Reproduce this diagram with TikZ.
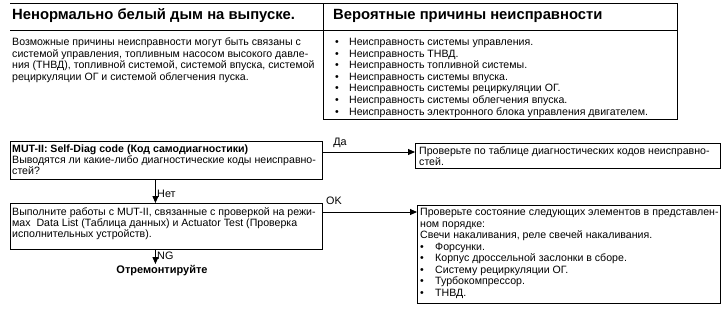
\documentclass[tikz,border=0pt]{standalone}
\usepackage{fontspec}
\setmainfont{Liberation Sans}
\usetikzlibrary{arrows.meta}
\newcommand\mybul{\makebox[14pt][l]{•}}
\newcommand\mybulb{\makebox[15pt][l]{•}}
\begin{document}
\begin{tikzpicture}[x=1pt,y=-1pt,
  txt/.style={font=\fontsize{10.6}{11.6}\selectfont, inner sep=0pt, anchor=north west, align=left},
  ftxt/.style={font=\fontsize{10.6}{11.2}\selectfont, inner sep=0pt, anchor=north west, align=left},
  ltxt/.style={font=\fontsize{10.6}{11.5}\selectfont, inner sep=0pt, anchor=north west, align=left},
  hdr/.style={font=\fontsize{14.8}{16}\selectfont\bfseries, inner sep=0pt, anchor=base west},
  frame/.style={draw, line width=0.9pt, inner sep=0pt, anchor=north west},
  rule/.style={line width=0.9pt},
  arr/.style={line width=0.9pt, -{Triangle[length=7pt,width=6pt]}},
  lbl/.style={font=\fontsize{10.8}{12}\selectfont, inner sep=0pt}
]
\useasboundingbox (0,0) rectangle (725,309);
% top table
\draw[rule] (10,3) -- (677,3);
\draw[rule] (10,30) -- (677,30);
\draw[rule] (323,3) -- (323,119) -- (677,119) -- (677,3);
\node[hdr] (hL) at (12,19) {Ненормально белый дым на выпуске.};
\node[hdr] (hR) at (333,19) {Вероятные причины неисправности};
\node[txt] (tL) at (12,37.5) {Возможные причины неисправности могут быть связаны с\\
системой управления, топливным насосом высокого давле-\\
ния (ТНВД), топливной системой, системой впуска, системой\\
рециркуляции ОГ и системой облегчения пуска.};
\node[txt] (tR) at (335,38) {\mybul Неисправность системы управления.\\
\mybul Неисправность ТНВД.\\
\mybul Неисправность топливной системы.\\
\mybul Неисправность системы впуска.\\
\mybul Неисправность системы рециркуляции ОГ.\\
\mybul Неисправность системы облегчения впуска.\\
\mybul Неисправность электронного блока управления двигателем.};
% flowchart boxes
\node[frame, minimum width=312pt, minimum height=38pt] (q1) at (10,141) {};
\node[frame, minimum width=305pt, minimum height=25pt] (a1) at (415,143) {};
\node[frame, minimum width=312pt, minimum height=46pt] (q2) at (10,203) {};
\node[frame, minimum width=303pt, minimum height=98pt] (a2) at (417,205) {};
\node[ftxt] (q1t) at (12,144.2) {\textbf{MUT-II: Self-Diag code (Код самодиагностики)}\\
Выводятся ли какие-либо диагностические коды неисправно-\\
стей?};
\node[ftxt] (a1t) at (419,146.6) {Проверьте по таблице диагностических кодов неисправно-\\
стей.};
\node[ftxt] (q2t) at (12,207.2) {Выполните работы с MUT-II, связанные с проверкой на режи-\\
мах\ \ Data List (Таблица данных) и Actuator Test (Проверка\\
исполнительных устройств).};
\node[ltxt] (a2t) at (420,208) {Проверьте состояние следующих элементов в представлен-\\
ном порядке:\\
Свечи накаливания, реле свечей накаливания.\\
\mybulb Форсунки.\\
\mybulb Корпус дроссельной заслонки в сборе.\\
\mybulb Систему рециркуляции ОГ.\\
\mybulb Турбокомпрессор.\\
\mybulb ТНВД.};
\node[font=\fontsize{11}{12}\selectfont\bfseries, inner sep=0pt, anchor=north] (rep) at (162,265) {Отремонтируйте};
% connectors
\coordinate (p1) at ([yshift=-11pt]q1.north east);
\draw[arr] (p1) -- (p1 -| a1.west);
\node[lbl] (da) at (340,143) {Да};
\coordinate (p2) at ([yshift=-9pt]q2.north east);
\draw[arr] (p2) -- (p2 -| a2.west);
\node[lbl] (ok) at (334,201) {OK};
\coordinate (p3) at ([xshift=-11pt]q1.south);
\draw[arr] (p3) -- (p3 |- q2.north);
\node[lbl, anchor=west] (net) at (157,194) {Нет};
\coordinate (p4) at ([xshift=-11pt]q2.south);
\coordinate (p5) at ([yshift=1pt]p4 |- rep.north);
\draw[arr] (p4) -- (p5);
\node[lbl, anchor=west] (ng) at (157,256) {NG};
\end{tikzpicture}
\end{document}
